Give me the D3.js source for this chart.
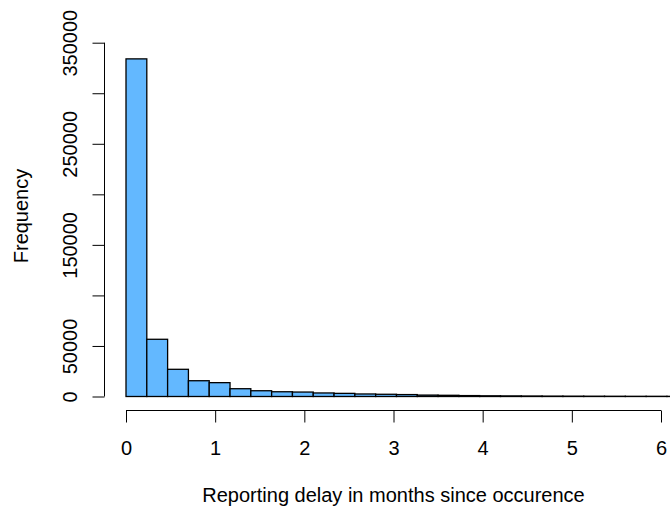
<!DOCTYPE html>
<html>
<head>
<meta charset="utf-8">
<script src="https://cdn.jsdelivr.net/npm/d3@7"></script>
<style>
  body { margin: 0; background: #fff; }
  svg text { font-family: "Liberation Sans", Arial, sans-serif; fill: #000; }
</style>
</head>
<body>
<div id="chart"></div>
<script>
// one bin = one week, expressed in months (7/30)
const binWidth = 7 / 30;
// counts per weekly bin
const counts = [334000, 56600, 26900, 15600, 13700, 7700, 5700, 4700, 4400, 3500,
  3100, 2500, 2200, 1900, 1400, 1200, 900, 700, 600, 500,
  400, 350, 300, 250, 200, 200, 150, 150];
const xTicks = [0, 1, 2, 3, 4, 5, 6];
const yTicks = [0, 50000, 100000, 150000, 200000, 250000, 300000, 350000];
const yLabels = [0, 50000, 150000, 250000, 350000];

const width = 670, height = 509;
const fontSize = 20;

const svg = d3.select("#chart")
  .append("svg")
  .attr("width", width)
  .attr("height", height);

const xScale = d3.scaleLinear()
  .domain([0, 6])
  .range([126, 661]);

const yScale = d3.scaleLinear()
  .domain([0, 350000])
  .range([396.5, 42.7]);

const bins = counts.map((c, i) => ({ x0: i * binWidth, x1: (i + 1) * binWidth, count: c }));

svg.append("g")
  .selectAll("rect")
  .data(bins)
  .enter()
  .append("rect")
  .attr("x", d => xScale(d.x0))
  .attr("y", d => yScale(d.count))
  .attr("width", d => xScale(d.x1) - xScale(d.x0))
  .attr("height", d => yScale(0) - yScale(d.count))
  .attr("fill", "#63B8FF")
  .attr("stroke", "#000")
  .attr("stroke-width", 1.3);

// x axis
const xAxis = d3.axisBottom(xScale)
  .tickValues(xTicks)
  .tickFormat(d3.format("d"))
  .tickSize(12);

const gx = svg.append("g")
  .attr("transform", "translate(0,410.5)")
  .call(xAxis);
gx.select(".domain").attr("d", `M${xScale(0)},0H${xScale(6)}`);
gx.selectAll(".tick text").attr("dy", 0).attr("y", 44);

// y axis
const yAxis = d3.axisLeft(yScale)
  .tickValues(yTicks)
  .tickFormat(d => yLabels.includes(d) ? d : "")
  .tickSize(12);

const gy = svg.append("g")
  .attr("transform", "translate(104.5,0)")
  .call(yAxis);
gy.select(".domain").attr("d", `M0,${yScale(0)}V${yScale(350000)}`);
gy.selectAll(".tick text")
  .attr("transform", "rotate(-90)")
  .attr("x", 0)
  .attr("y", -27.5)
  .attr("dy", 0)
  .attr("text-anchor", "middle");

[gx, gy].forEach(g => {
  g.selectAll("path, line").attr("stroke", "#000").attr("stroke-width", 1);
  g.selectAll("text").attr("font-size", fontSize).attr("font-family", null);
});

svg.append("text")
  .attr("x", 393.5)
  .attr("y", 502)
  .attr("text-anchor", "middle")
  .attr("font-size", fontSize)
  .text("Reporting delay in months since occurence");

svg.append("text")
  .attr("transform", "translate(28,216) rotate(-90)")
  .attr("text-anchor", "middle")
  .attr("font-size", fontSize)
  .text("Frequency");
</script>
</body>
</html>
